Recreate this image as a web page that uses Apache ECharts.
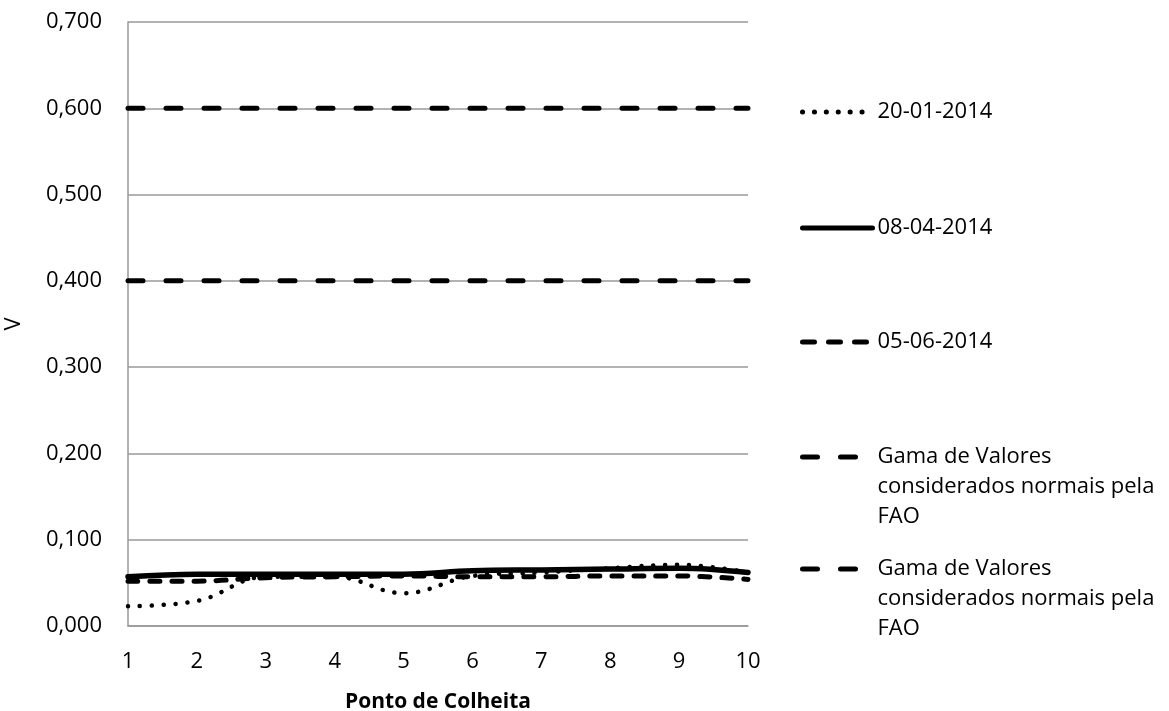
<!DOCTYPE html>
<html>
<head>
<meta charset="utf-8">
<script src="https://cdn.jsdelivr.net/npm/echarts@6/dist/echarts.min.js"></script>
<style>
html,body{margin:0;padding:0;background:#fff;}
#chart{width:1169px;height:711px;}
</style>
</head>
<body>
<div id="chart"></div>
<script>
const categories = ['1','2','3','4','5','6','7','8','9','10'];
const yTicks = [0, 0.1, 0.2, 0.3, 0.4, 0.5, 0.6, 0.7];
const s20012014 = [0.023, 0.029, 0.057, 0.057, 0.038, 0.058, 0.062, 0.067, 0.071, 0.062];
const s08042014 = [0.057, 0.060, 0.060, 0.060, 0.060, 0.064, 0.065, 0.066, 0.067, 0.062];
const s05062014 = [0.052, 0.052, 0.056, 0.057, 0.058, 0.057, 0.057, 0.058, 0.058, 0.054];
const faoMax = [0.6, 0.6, 0.6, 0.6, 0.6, 0.6, 0.6, 0.6, 0.6, 0.6];
const faoMin = [0.4, 0.4, 0.4, 0.4, 0.4, 0.4, 0.4, 0.4, 0.4, 0.4];
const seriesNames = ['20-01-2014', '08-04-2014', '05-06-2014', 'FAO_max', 'FAO_min'];
const faoLabel = 'Gama de Valores\nconsiderados normais pela\nFAO';

const FONT = 'Open Sans';
const FS = 22;
const LH = 30;

function mkLegend(name, top, dash) {
  const ls = { width: 5, cap: 'round' };
  if (dash) ls.type = dash;
  return {
    show: true,
    data: [name],
    left: 800,
    top: top,
    padding: 0,
    orient: 'vertical',
    itemWidth: 70,
    itemHeight: 14,
    selectedMode: false,
    itemStyle: { opacity: 0 },
    lineStyle: ls,
    formatter: function (n) {
      return (n === 'FAO_max' || n === 'FAO_min') ? '\n\n' + faoLabel : n;
    },
    textStyle: { fontFamily: FONT, fontSize: FS, color: '#000', lineHeight: LH }
  };
}

const chart = echarts.init(document.getElementById('chart'));
chart.setOption({
  animation: false,
  backgroundColor: '#fff',
  grid: { left: 128, right: 421, top: 22, bottom: 85, containLabel: false, outerBoundsMode: 'none' },
  legend: [
    mkLegend(seriesNames[0], 112 - LH / 2),
    mkLegend(seriesNames[1], 228 - LH / 2),
    mkLegend(seriesNames[2], 342 - LH / 2, [12, 14]),
    mkLegend(seriesNames[3], 457 - 2.5 * LH),
    mkLegend(seriesNames[4], 569 - 2.5 * LH)
  ],
  xAxis: {
    type: 'category',
    data: categories,
    boundaryGap: false,
    name: 'Ponto de Colheita',
    nameLocation: 'middle',
    nameGap: 66,
    nameTextStyle: { fontFamily: FONT, fontSize: 21, fontWeight: 'bold', color: '#000' },
    axisLine: { lineStyle: { color: '#999', width: 1.5 } },
    axisTick: { show: false },
    axisLabel: { fontFamily: FONT, fontSize: FS, color: '#000', margin: 25 },
    splitLine: { show: false }
  },
  yAxis: {
    type: 'value',
    min: yTicks[0],
    max: yTicks[yTicks.length - 1],
    interval: 0.1,
    name: 'V',
    nameLocation: 'middle',
    nameGap: 103,
    nameTextStyle: { fontFamily: FONT, fontSize: FS, color: '#000' },
    axisLine: { show: true, lineStyle: { color: '#999', width: 1.5 } },
    axisTick: { show: false },
    axisLabel: {
      fontFamily: FONT, fontSize: FS, color: '#000', margin: 26,
      formatter: function (v) { return v.toFixed(3).replace('.', ','); }
    },
    splitLine: { show: true, lineStyle: { color: '#999', width: 1.5 } }
  },
  series: [
    { name: seriesNames[0], type: 'line', data: s20012014, smooth: 0.4, symbol: 'none',
      itemStyle: { color: '#000' },
      lineStyle: { color: '#000', width: 4.5, type: [0.1, 11.8], cap: 'round' }, z: 5 },
    { name: seriesNames[1], type: 'line', data: s08042014, smooth: 0.4, symbol: 'none',
      itemStyle: { color: '#000' },
      lineStyle: { color: '#000', width: 5.5, type: 'solid', cap: 'round' }, z: 4 },
    { name: seriesNames[2], type: 'line', data: s05062014, smooth: 0.4, symbol: 'none',
      itemStyle: { color: '#000' },
      lineStyle: { color: '#000', width: 5, type: [10, 12], cap: 'round' }, z: 3 },
    { name: seriesNames[3], type: 'line', data: faoMax, symbol: 'none',
      itemStyle: { color: '#000' },
      lineStyle: { color: '#000', width: 5, type: [15, 23], cap: 'round' }, z: 3 },
    { name: seriesNames[4], type: 'line', data: faoMin, symbol: 'none',
      itemStyle: { color: '#000' },
      lineStyle: { color: '#000', width: 5, type: [15, 23], cap: 'round' }, z: 3 }
  ]
});
</script>
</body>
</html>
